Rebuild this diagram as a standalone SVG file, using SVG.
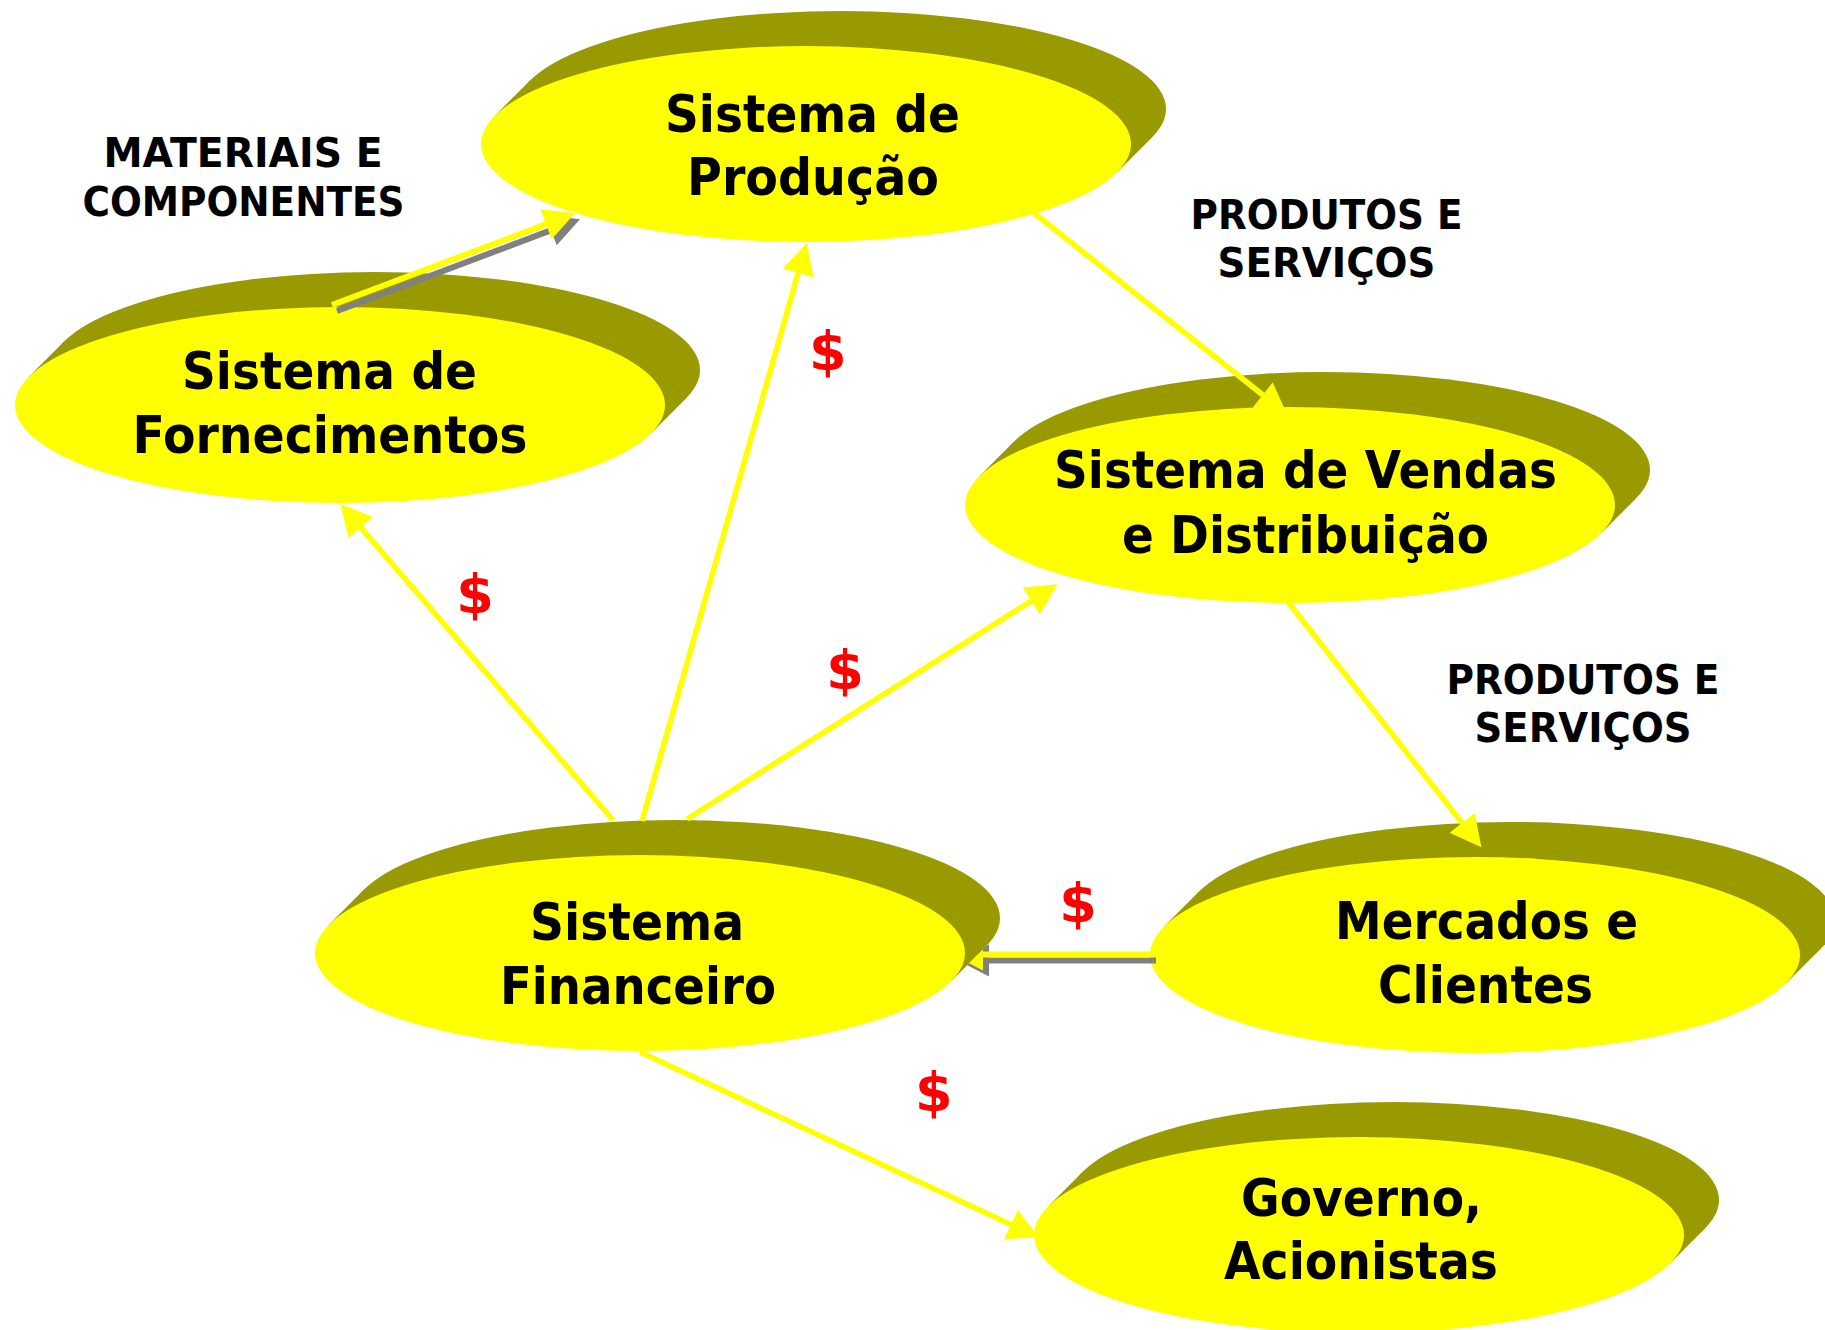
<svg xmlns="http://www.w3.org/2000/svg" xmlns:xlink="http://www.w3.org/1999/xlink" width="1825" height="1330" viewBox="0 0 1825 1330">
<style>
.sh{fill:#999900}
.fr{fill:#FFFF00}
.nt{font-family:"DejaVu Sans",Verdana,sans-serif;font-weight:bold;font-size:52px;fill:#000;text-anchor:middle}
.lb{font-family:"DejaVu Sans",Verdana,sans-serif;font-weight:bold;font-size:41px;fill:#000;text-anchor:middle}
.dl{font-family:"DejaVu Sans",Verdana,sans-serif;font-weight:bold;font-size:54px;fill:#FF0000;text-anchor:middle}
.cn{fill:none;stroke:#FFFF00;stroke-width:5.5;marker-end:url(#ah)}
.cw{fill:none;stroke:#FFFF00;stroke-width:6;marker-end:url(#ah)}
.cg{fill:none;stroke:#808080;stroke-width:6;marker-end:url(#ahg)}
</style>
<defs>
<g id="disc">
<ellipse class="sh" cx="35" cy="-35" rx="325" ry="98"/>
<polygon class="sh" points="311.2,28.3 346.2,-6.7 -276.2,-63.3 -311.2,-28.3"/>
<ellipse class="fr" cx="0" cy="0" rx="325" ry="98"/>
</g>
<marker id="ah" markerUnits="userSpaceOnUse" markerWidth="32" markerHeight="34" viewBox="0 -17 32 34" refX="1" refY="0" orient="auto" overflow="visible">
<path d="M0,-16 L31,0 L0,16 Z" fill="#FFFF00"/>
</marker>
<marker id="ahg" markerUnits="userSpaceOnUse" markerWidth="32" markerHeight="34" viewBox="0 -17 32 34" refX="1" refY="0" orient="auto" overflow="visible">
<path d="M0,-16 L31,0 L0,16 Z" fill="#808080"/>
</marker>
<mask id="hideFin" maskUnits="userSpaceOnUse" x="0" y="0" width="1825" height="1330">
<rect x="0" y="0" width="1825" height="1330" fill="#fff"/>
<ellipse cx="675" cy="918" rx="325" ry="98" fill="#000"/>
<polygon points="951.2,981.3 986.2,946.3 363.8,889.7 328.8,924.7" fill="#000"/>
<ellipse cx="640" cy="953" rx="325" ry="98" fill="#000"/>
</mask>
</defs>
<rect x="0" y="0" width="1825" height="1330" fill="#FFFFFF"/>

<g id="n-producao">
<use href="#disc" x="806" y="144"/>
<text class="nt" x="812.5" y="132" textLength="295" lengthAdjust="spacingAndGlyphs">Sistema de</text>
<text class="nt" x="813" y="195" textLength="252" lengthAdjust="spacingAndGlyphs">Produção</text>
</g>
<g id="n-fornecimentos">
<use href="#disc" x="340" y="405"/>
<text class="nt" x="329.5" y="389" textLength="295" lengthAdjust="spacingAndGlyphs">Sistema de</text>
<text class="nt" x="330" y="453" textLength="395" lengthAdjust="spacingAndGlyphs">Fornecimentos</text>
</g>
<g id="n-vendas">
<use href="#disc" x="1290" y="505"/>
<text class="nt" x="1305.5" y="488" textLength="503" lengthAdjust="spacingAndGlyphs">Sistema de Vendas</text>
<text class="nt" x="1305.5" y="553" textLength="367" lengthAdjust="spacingAndGlyphs">e Distribuição</text>
</g>
<g id="n-financeiro">
<use href="#disc" x="640" y="953"/>
<text class="nt" x="637" y="940" textLength="214" lengthAdjust="spacingAndGlyphs">Sistema</text>
<text class="nt" x="638" y="1004" textLength="276" lengthAdjust="spacingAndGlyphs">Financeiro</text>
</g>
<g id="n-mercados">
<use href="#disc" x="1475" y="955"/>
<text class="nt" x="1486.5" y="939" textLength="303" lengthAdjust="spacingAndGlyphs">Mercados e</text>
<text class="nt" x="1485.5" y="1003" textLength="215" lengthAdjust="spacingAndGlyphs">Clientes</text>
</g>
<g id="n-governo">
<use href="#disc" x="1359" y="1235"/>
<text class="nt" x="1361.5" y="1216" textLength="241" lengthAdjust="spacingAndGlyphs">Governo,</text>
<text class="nt" x="1361" y="1279" textLength="274" lengthAdjust="spacingAndGlyphs">Acionistas</text>
</g>

<g id="connectors">
<g id="c-forn-prod">
<path class="cg" d="M337,311 L552,229.9"/>
<path class="cw" d="M332,305 L547,223.9"/>
</g>
<path id="c-prod-vendas" class="cn" d="M1034,213 L1263.5,395.5"/>
<path id="c-vendas-merc" class="cn" d="M1288,602 L1462.8,823.7"/>
<g id="c-merc-fin" mask="url(#hideFin)">
<path class="cg" d="M1156,960.5 L988,960.5"/>
<path class="cw" d="M1150,954.5 L982,954.5"/>
</g>
<path id="c-fin-forn" class="cn" d="M613,820 L360,526.6"/>
<path id="c-fin-prod" class="cn" d="M642,821 L798.5,271.8"/>
<path id="c-fin-vendas" class="cn" d="M687,819 L1032.1,600.4"/>
<path id="c-fin-gov" class="cn" d="M640,1052 L1011.9,1224.9"/>
</g>

<g id="labels">
<text class="lb" x="243" y="166.7" textLength="279" lengthAdjust="spacingAndGlyphs">MATERIAIS E</text>
<text class="lb" x="243.5" y="215.7" textLength="322" lengthAdjust="spacingAndGlyphs">COMPONENTES</text>
<text class="lb" x="1326.5" y="229" textLength="272" lengthAdjust="spacingAndGlyphs">PRODUTOS E</text>
<text class="lb" x="1326.5" y="277" textLength="218" lengthAdjust="spacingAndGlyphs">SERVIÇOS</text>
<text class="lb" x="1583" y="693.5" textLength="273" lengthAdjust="spacingAndGlyphs">PRODUTOS E</text>
<text class="lb" x="1583" y="742.3" textLength="217" lengthAdjust="spacingAndGlyphs">SERVIÇOS</text>
<text class="dl" x="475" y="613">$</text>
<text class="dl" x="827.7" y="370">$</text>
<text class="dl" x="845" y="689">$</text>
<text class="dl" x="1078" y="922">$</text>
<text class="dl" x="933.7" y="1111">$</text>
</g>
</svg>
